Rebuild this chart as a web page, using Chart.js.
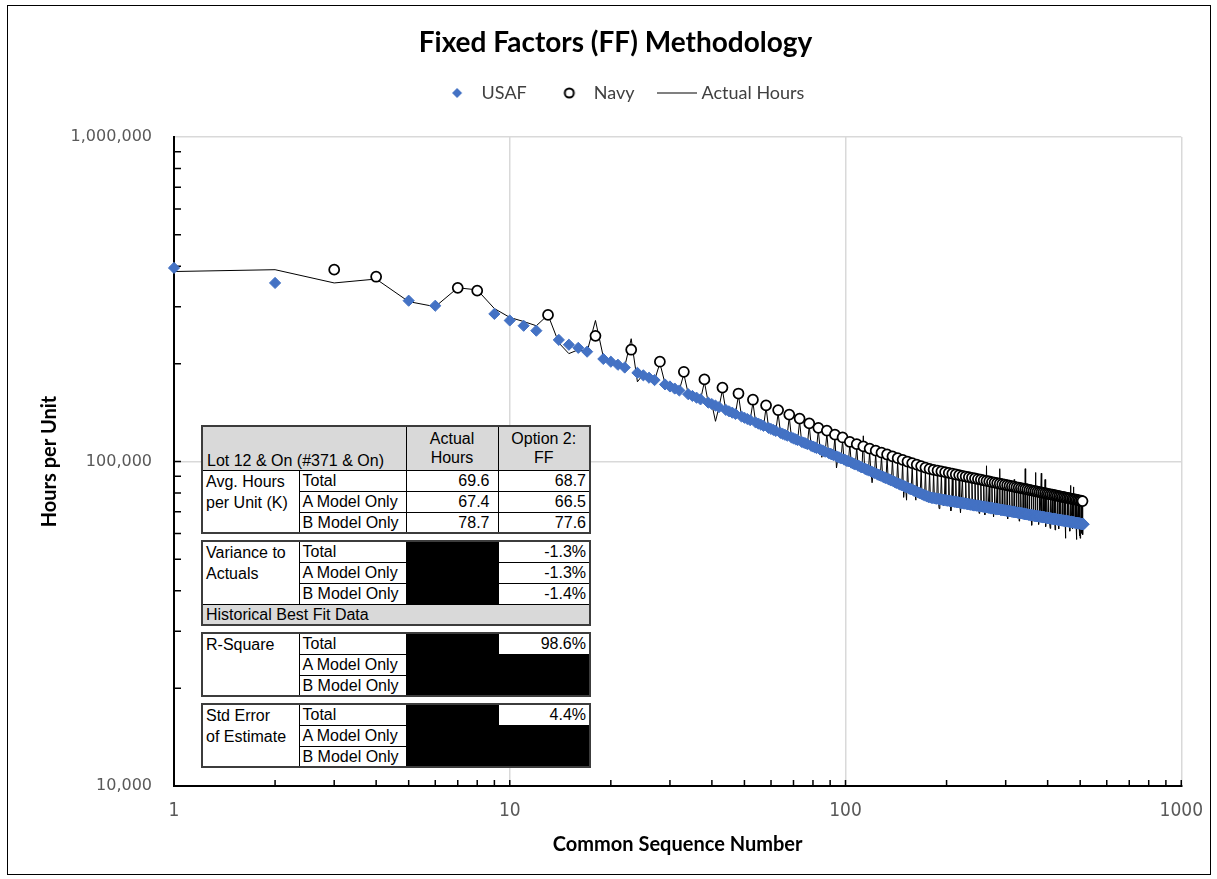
<!DOCTYPE html>
<html>
<head>
<meta charset="utf-8">
<title>Fixed Factors (FF) Methodology</title>
<script src="https://cdn.jsdelivr.net/npm/chart.js@4.4.1/dist/chart.umd.min.js"></script>
<style>
  html, body { margin: 0; padding: 0; background: #fff; }
  #wrap { position: relative; width: 1217px; height: 879px; overflow: hidden; }
  #frame { position: absolute; left: 7px; top: 5px; width: 1204px; height: 870px; border: 1px solid #000; box-sizing: border-box; pointer-events: none; }
  #ffChart { position: absolute; left: 0; top: 0; }
  #stats { position: absolute; left: 201px; top: 425px; width: 388px; background: #fff; font: 16px "Liberation Sans", Arial, sans-serif; color: #000; }
  #stats table { width: 388px; border-collapse: collapse; table-layout: fixed; border: 2px solid #3c3c3c; margin-top: 6px; }
  #stats table:first-child { margin-top: 0; }
  #stats td { border: 1px solid #000; padding: 0 3px; line-height: 19px; white-space: nowrap; overflow: hidden; background: #fff; }
  #stats tr { height: 21px; }
  #stats tr.hd { height: 44px; }
  #stats tr.hd td { background: #d9d9d9; }
  #stats td.bot { vertical-align: bottom; padding-left: 4px; }
  #stats td.ctr { text-align: center; }
  #stats td.top { vertical-align: top; line-height: 21px; }
  #stats td.n3 { text-align: right; padding-right: 8px; }
  #stats td.n4 { text-align: right; padding-right: 3px; }
  #stats td.fill { background: #000; }
  #stats tr.band td { background: #d9d9d9; }
</style>
</head>
<body>
<div id="wrap">
  <canvas id="ffChart" width="1217" height="879"></canvas>
  <div id="frame"></div>
  <div id="stats">
    <table>
      <colgroup><col style="width:97px"><col style="width:107px"><col style="width:92px"><col style="width:92px"></colgroup>
      <tr class="hd"><td colspan="2" class="bot">Lot 12 &amp; On (#371 &amp; On)</td><td class="ctr">Actual<br>Hours</td><td class="ctr">Option 2:<br>FF</td></tr>
      <tr><td rowspan="3" class="top">Avg. Hours<br>per Unit (K)</td><td>Total</td><td class="n3">69.6</td><td class="n4">68.7</td></tr>
      <tr><td>A Model Only</td><td class="n3">67.4</td><td class="n4">66.5</td></tr>
      <tr><td>B Model Only</td><td class="n3">78.7</td><td class="n4">77.6</td></tr>
    </table>
    <table>
      <colgroup><col style="width:97px"><col style="width:107px"><col style="width:92px"><col style="width:92px"></colgroup>
      <tr><td rowspan="3" class="top">Variance to<br>Actuals</td><td>Total</td><td rowspan="3" class="fill"></td><td class="n4">-1.3%</td></tr>
      <tr><td>A Model Only</td><td class="n4">-1.3%</td></tr>
      <tr><td>B Model Only</td><td class="n4">-1.4%</td></tr>
      <tr class="band"><td colspan="4">Historical Best Fit Data</td></tr>
    </table>
    <table>
      <colgroup><col style="width:97px"><col style="width:107px"><col style="width:92px"><col style="width:92px"></colgroup>
      <tr><td rowspan="3" class="top">R-Square</td><td>Total</td><td rowspan="3" class="fill"></td><td class="n4">98.6%</td></tr>
      <tr><td>A Model Only</td><td rowspan="2" class="fill"></td></tr>
      <tr><td>B Model Only</td></tr>
    </table>
    <table>
      <colgroup><col style="width:97px"><col style="width:107px"><col style="width:92px"><col style="width:92px"></colgroup>
      <tr><td rowspan="3" class="top">Std Error<br>of Estimate</td><td>Total</td><td rowspan="3" class="fill"></td><td class="n4">4.4%</td></tr>
      <tr><td>A Model Only</td><td rowspan="2" class="fill"></td></tr>
      <tr><td>B Model Only</td></tr>
    </table>
  </div>
</div>
<script>
// FF model value per common sequence number, thousands of hours (seq 1..512)
const modelK = [
  395, 355, 390, 371, 313, 302, 343, 336, 285, 272,
  262, 253, 283, 237, 229, 224, 218, 244, 207, 203,
  198.7, 194.8, 221, 187.6, 184.3, 181.2, 178.2, 203, 172.8, 170.3,
  167.8, 165.5, 189, 161.2, 159.2, 157.3, 155.4, 179, 151.9, 150.3,
  148.7, 147.1, 169, 144.2, 142.8, 141.4, 140.1, 162, 137.6, 136.4,
  135.2, 134.1, 155, 131.9, 130.9, 129.8, 128.8, 149, 126.9, 126.0,
  125.1, 124.2, 144, 122.5, 121.7, 120.9, 120.1, 139.5, 118.6, 117.8,
  117.1, 116.4, 135.6, 115.0, 114.4, 113.7, 113.1, 131, 111.8, 111.2,
  110.6, 110.0, 127, 108.9, 108.3, 107.8, 107.2, 124.5, 106.2, 105.7,
  105.2, 104.7, 121, 103.7, 103.2, 102.8, 102.3, 118.6, 101.4, 101.0,
  100.5, 100.1, 115, 99.2, 98.8, 98.3, 97.9, 113.1, 97.1, 96.7,
  96.3, 95.9, 111.3, 95.1, 94.7, 94.3, 94.0, 109.6, 93.2, 92.9,
  92.5, 92.2, 108.0, 91.5, 91.1, 90.8, 90.5, 106.5, 89.8, 89.5,
  89.2, 88.9, 105.1, 88.3, 88.0, 87.7, 87.4, 103.7, 86.8, 86.5,
  86.2, 85.9, 102.4, 85.4, 85.1, 84.9, 84.6, 101.2, 84.1, 83.8,
  83.5, 83.3, 100.0, 82.8, 82.5, 82.3, 82.1, 98.9, 81.6, 81.3,
  81.1, 80.9, 97.8, 80.4, 80.2, 80.0, 79.8, 96.8, 79.3, 79.1,
  78.9, 78.7, 95.8, 78.3, 78.1, 77.9, 77.7, 94.9, 77.5, 77.4,
  77.3, 77.2, 94.3, 77.0, 77.0, 76.9, 76.8, 93.8, 76.7, 76.6,
  76.5, 76.4, 93.2, 76.3, 76.2, 76.1, 76.1, 92.7, 76.0, 75.9,
  75.8, 75.7, 92.2, 75.6, 75.5, 75.5, 75.4, 91.7, 75.3, 75.3,
  75.2, 75.1, 91.2, 75.0, 74.9, 74.9, 74.8, 90.8, 74.7, 74.6,
  74.5, 74.5, 90.3, 74.4, 74.3, 74.3, 74.2, 89.9, 74.1, 74.0,
  74.0, 73.9, 89.5, 73.8, 73.7, 73.7, 73.6, 89.1, 73.5, 73.4,
  73.4, 73.3, 88.7, 73.2, 73.2, 73.1, 73.1, 88.3, 73.0, 72.9,
  72.9, 72.8, 87.9, 72.7, 72.7, 72.6, 72.6, 87.5, 72.5, 72.4,
  72.4, 72.3, 87.1, 72.2, 72.2, 72.1, 72.1, 86.8, 72.0, 71.9,
  71.9, 71.8, 86.4, 71.8, 71.7, 71.7, 71.6, 86.1, 71.5, 71.5,
  71.4, 71.4, 85.8, 71.3, 71.3, 71.2, 71.2, 85.4, 71.1, 71.0,
  71.0, 70.9, 85.1, 70.9, 70.8, 70.8, 70.7, 84.8, 70.7, 70.6,
  70.6, 70.5, 84.5, 70.5, 70.4, 70.4, 70.3, 84.2, 70.3, 70.2,
  70.2, 70.1, 83.9, 70.1, 70.0, 70.0, 69.9, 83.6, 69.9, 69.8,
  69.8, 69.7, 83.3, 69.7, 69.6, 69.6, 69.5, 83.1, 69.5, 69.4,
  69.4, 69.3, 82.8, 69.3, 69.2, 69.2, 69.1, 82.5, 69.1, 69.0,
  69.0, 68.9, 82.3, 68.9, 68.8, 68.8, 68.7, 82.0, 68.7, 68.6,
  68.6, 68.6, 81.7, 68.5, 68.5, 68.4, 68.4, 81.5, 68.3, 68.3,
  68.2, 68.2, 81.2, 68.1, 68.1, 68.0, 68.0, 81.0, 67.9, 67.9,
  67.9, 67.9, 80.8, 67.8, 67.8, 67.8, 67.7, 80.5, 67.7, 67.7,
  67.6, 67.6, 80.3, 67.5, 67.5, 67.5, 67.4, 80.1, 67.4, 67.3,
  67.3, 67.3, 79.9, 67.2, 67.2, 67.1, 67.1, 79.6, 67.1, 67.0,
  67.0, 67.0, 79.4, 66.9, 66.9, 66.9, 66.8, 79.2, 66.8, 66.7,
  66.7, 66.7, 79.0, 66.6, 66.6, 66.6, 66.5, 78.8, 66.5, 66.4,
  66.4, 66.4, 78.6, 66.3, 66.3, 66.3, 66.2, 78.4, 66.2, 66.2,
  66.1, 66.1, 78.2, 66.0, 66.0, 66.0, 66.0, 78.0, 65.9, 65.9,
  65.9, 65.8, 77.8, 65.8, 65.8, 65.7, 65.7, 77.6, 65.7, 65.6,
  65.6, 65.6, 77.4, 65.5, 65.5, 65.5, 65.5, 77.2, 65.4, 65.4,
  65.4, 65.3, 77.1, 65.3, 65.3, 65.2, 65.2, 76.9, 65.2, 65.1,
  65.1, 65.1, 76.7, 65.0, 65.0, 65.0, 65.0, 76.5, 64.9, 64.9,
  64.9, 64.8, 76.4, 64.8, 64.8, 64.7, 64.7, 76.2, 64.7, 64.6,
  64.6, 64.6, 76.0, 64.5, 64.5, 64.5, 64.5, 75.8, 64.4, 64.4,
  64.4, 64.3, 75.7, 64.3, 64.3, 64.2, 64.2, 75.5, 64.2, 64.1,
  64.1, 64.1
];

// actual hours per unit, thousands (seq 1..512)
const actualK = [
  385, 390, 355, 365, 311, 300, 343, 338, 296, 278,
  270, 262, 283, 232, 215, 221, 218, 272, 210, 204,
  200, 196, 239, 176, 186, 182, 178, 201, 174, 171,
  168, 166, 186, 162, 160, 157, 155, 176, 152, 150,
  133, 147, 166, 144, 143, 141, 140, 160, 138, 136,
  135, 134, 152, 132, 131, 130, 128, 147, 127, 126,
  125, 124, 141, 123, 122, 121, 120, 137, 119, 118,
  117, 116, 133, 115, 114, 114, 113, 129, 112, 111,
  110.5, 110, 125, 109, 103, 108, 107, 122, 106, 105.7,
  105, 104.5, 119, 95.5, 103, 102.5, 102, 116, 101, 100.5,
  100, 99.6, 113, 99, 98.5, 98, 97.6, 111, 97, 96.5,
  96, 95.6, 120, 95, 94.5, 94, 93.8, 107, 93, 86,
  92.3, 92, 105.5, 91.3, 91, 90.6, 90.3, 104, 89.6, 89.3,
  89, 88.7, 103, 88.1, 87.8, 87.5, 87.2, 101.5, 86.6, 86.3,
  86, 85.7, 100, 85.2, 85, 84.7, 84.4, 99, 77.5, 83.6,
  83.3, 76, 98, 82.6, 82.3, 82.1, 81.9, 97, 81.4, 81.1,
  80.9, 76, 96, 80.2, 80, 79.8, 79.6, 95, 79.1, 78.9,
  78.7, 78.5, 94, 78.1, 77.9, 77.7, 77.5, 93, 77.3, 77.2,
  77.1, 77, 92.5, 76.8, 76.8, 76.7, 76.6, 97, 76.5, 71.6,
  76.3, 76.2, 91.5, 76.1, 76, 73, 75.9, 91, 75.8, 75.7,
  75.6, 75.5, 90.5, 75.4, 75.3, 70.5, 75.2, 90, 75.1, 75.1,
  75, 74.9, 89.5, 74.8, 74.7, 74.7, 74.6, 89, 74.5, 69.5,
  74.3, 74.3, 88.6, 74.2, 74.1, 74.1, 74, 88.2, 73.9, 73.8,
  73.8, 73.7, 87.8, 73.6, 73.5, 73.5, 73.4, 87.5, 73.3, 73.2,
  73.2, 73.1, 92, 73, 73, 72.9, 72.9, 86.6, 72.8, 69.2,
  72.7, 72.6, 86.2, 72.5, 72.5, 72.4, 72.4, 85.8, 72.3, 68.5,
  72.2, 72.1, 97, 72, 72, 71.9, 71.9, 85, 71.8, 71.7,
  71.7, 71.6, 84.8, 71.6, 71.5, 67.5, 71.4, 84.5, 71.3, 71.3,
  71.2, 71.2, 84.2, 71.1, 71.1, 71, 71, 95, 70.9, 70.8,
  70.8, 70.7, 83.5, 70.7, 70.6, 70.6, 70.5, 83.2, 70.5, 70.4,
  70.4, 70.3, 83, 66.5, 70.2, 70.2, 70.1, 82.7, 70.1, 70,
  70, 69.9, 82.4, 69.9, 69.8, 69.8, 69.7, 88, 69.7, 69.6,
  69.6, 69.5, 81.8, 69.5, 69.4, 69.4, 69.3, 81.6, 65.5, 69.2,
  69.2, 69.1, 81.3, 69.1, 69, 69, 68.9, 81, 68.9, 68.8,
  68.8, 68.7, 95, 68.7, 68.6, 68.6, 68.5, 80.5, 68.5, 68.4,
  68.4, 68.4, 80.2, 68.3, 68.3, 68.2, 68.2, 80, 63.6, 68.1,
  68, 68, 79.8, 67.9, 67.9, 67.8, 67.8, 92.5, 67.7, 67.7,
  67.7, 67.6, 79.3, 67.6, 67.5, 64, 67.5, 79, 67.5, 67.4,
  67.4, 67.4, 92, 67.3, 67.3, 67.3, 67.2, 78.6, 67.2, 67.1,
  67.1, 67.1, 88, 67, 63, 66.9, 66.9, 78.2, 66.9, 66.8,
  66.8, 66.8, 78, 66.7, 66.7, 66.7, 62.2, 77.8, 66.6, 66.5,
  66.5, 66.5, 77.6, 66.4, 66.4, 66.4, 66.3, 77.4, 66.3, 66.2,
  61.5, 66.2, 77.2, 66.1, 66.1, 66.1, 66, 77, 66, 66,
  65.9, 62, 76.8, 65.8, 65.8, 65.8, 65.8, 76.6, 65.7, 65.7,
  65.7, 65.6, 76.4, 65.6, 65.6, 65.5, 65.5, 76.2, 65.5, 65.4,
  65.4, 58, 76, 65.3, 65.3, 65.3, 65.3, 75.8, 65.2, 65.2,
  65.2, 65.1, 75.7, 65.1, 65.1, 61, 65, 84.4, 65, 64.9,
  64.9, 64.9, 75.3, 62, 64.8, 64.8, 64.8, 83.5, 64.7, 64.7,
  64.7, 64.6, 75, 64.6, 64.6, 64.5, 57.5, 74.8, 64.5, 64.4,
  64.4, 64.4, 74.6, 64.3, 64.3, 64.3, 59, 74.4, 64.2, 58,
  64.2, 64.1, 74.3, 64.1, 60, 64, 64, 74.1, 59.5, 63.9,
  63.9, 63.9
];

// sequence numbers built by the Navy (the rest are USAF)
const navySeq = [
  3, 4, 7, 8, 13, 18, 23, 28, 33, 38, 43, 48, 53, 58, 63, 68, 73, 78, 83, 88,
  93, 98, 103, 108, 113, 118, 123, 128, 133, 138, 143, 148, 153, 158, 163, 168,
  173, 178, 183, 188, 193, 198, 203, 208, 213, 218, 223, 228, 233, 238, 243, 248,
  253, 258, 263, 268, 273, 278, 283, 288, 293, 298, 303, 308, 313, 318, 323, 328,
  333, 338, 343, 348, 353, 358, 363, 368, 373, 378, 383, 388, 393, 398, 403, 408,
  413, 418, 423, 428, 433, 438, 443, 448, 453, 458, 463, 468, 473, 478, 483, 488,
  493, 498, 503, 508
];

const xTickVals = [1, 10, 100, 1000];
const yTickVals = [10000, 100000, 1000000];
const xMarks = [2, 3, 4, 5, 6, 7, 8, 9, 10, 20, 30, 40, 50, 60, 70, 80, 90, 100, 200, 300, 400, 500, 600, 700, 800, 900, 1000];
const yMarks = [20000, 30000, 40000, 50000, 60000, 70000, 80000, 90000, 100000,
  200000, 300000, 400000, 500000, 600000, 700000, 800000, 900000];

const usafPts = [];
const navyPts = [];
const actualPts = [];
modelK.forEach((v, i) => {
  const seq = i + 1;
  const pt = { x: seq, y: v * 1000 };
  if (navySeq.includes(seq)) navyPts.push(pt);
  else usafPts.push(pt);
  actualPts.push({ x: seq, y: actualK[i] * 1000 });
});

// legend icons
function icon(w, h, draw) {
  const c = document.createElement('canvas');
  c.width = w; c.height = h;
  draw(c.getContext('2d'));
  return c;
}
const legendIcons = [
  icon(12, 12, (g) => {
    g.fillStyle = '#4472C4';
    g.beginPath(); g.moveTo(6, 1); g.lineTo(11, 6); g.lineTo(6, 11); g.lineTo(1, 6); g.closePath(); g.fill();
  }),
  icon(14, 14, (g) => {
    g.fillStyle = '#fff'; g.strokeStyle = '#000'; g.lineWidth = 2;
    g.beginPath(); g.arc(7, 7, 4.5, 0, Math.PI * 2); g.fill(); g.stroke();
  }),
  icon(40, 3, (g) => {
    g.strokeStyle = '#000'; g.lineWidth = 1;
    g.beginPath(); g.moveTo(0, 1.5); g.lineTo(40, 1.5); g.stroke();
  })
];

const chartTweaks = {
  id: 'chartTweaks',
  beforeInit(chart) {
    const fit = chart.legend.fit;
    chart.legend.fit = function () {
      fit.call(this);
      this.height += 25;
    };
  },
  afterLayout(chart) {
    chart.legend.left += 55;
    chart.titleBlock.left += 40;
  },
  beforeDatasetsDraw(chart) {
    const { ctx, scales: { x, y } } = chart;
    ctx.save();
    ctx.strokeStyle = '#000';
    ctx.lineWidth = 1.5;
    ctx.beginPath();
    xMarks.forEach((v) => {
      const px = x.getPixelForValue(v);
      ctx.moveTo(px, y.bottom);
      ctx.lineTo(px, y.bottom - 6);
    });
    yMarks.forEach((v) => {
      const py = y.getPixelForValue(v);
      ctx.moveTo(x.left, py);
      ctx.lineTo(x.left + 7, py);
    });
    ctx.stroke();
    ctx.restore();
  }
};

Chart.defaults.font.family = 'Lato, sans-serif';

new Chart(document.getElementById('ffChart'), {
  type: 'scatter',
  data: {
    datasets: [
      { label: 'USAF', data: usafPts, pointStyle: 'rectRot', pointRadius: 5.6, pointBackgroundColor: '#4472C4', pointBorderColor: '#4472C4', pointBorderWidth: 1, clip: false },
      { label: 'Navy', data: navyPts, pointStyle: 'circle', pointRadius: 5, pointBackgroundColor: '#fff', pointBorderColor: '#000', pointBorderWidth: 1.75, clip: false },
      { label: 'Actual Hours', data: actualPts, showLine: true, pointRadius: 0, borderColor: '#000', borderWidth: 1, clip: false }
    ]
  },
  options: {
    responsive: false,
    animation: false,
    events: [],
    layout: { padding: { left: 8, right: 34, top: 6, bottom: 4 } },
    plugins: {
      tooltip: { enabled: false },
      title: {
        display: true,
        text: 'Fixed Factors (FF) Methodology',
        color: '#000',
        font: { family: 'Lato, sans-serif', size: 28, weight: 'bold', lineHeight: 1 },
        padding: { top: 23, bottom: 0 }
      },
      legend: {
        position: 'top',
        labels: {
          usePointStyle: true,
          pointStyleWidth: 31,
          padding: 27,
          color: '#404040',
          font: { family: 'Lato, sans-serif', size: 18 },
          generateLabels: (chart) => chart.data.datasets.map((ds, i) => ({
            text: ds.label,
            pointStyle: legendIcons[i],
            fontColor: '#404040',
            fillStyle: 'transparent',
            strokeStyle: 'transparent',
            lineWidth: 0,
            hidden: false,
            datasetIndex: i
          }))
        }
      }
    },
    scales: {
      x: {
        type: 'logarithmic',
        min: 1,
        max: 1000,
        afterBuildTicks: (axis) => { axis.ticks = xTickVals.map((v) => ({ value: v })); },
        afterFit: (axis) => { axis.height = 89; },
        grid: { color: '#d9d9d9', lineWidth: 1.5, drawTicks: false },
        border: { color: '#000', width: 2 },
        ticks: {
          autoSkip: false,
          maxRotation: 0,
          padding: 14,
          color: '#595959',
          font: { family: '"Liberation Sans Narrow", "DejaVu Sans Condensed", sans-serif', size: 19 },
          callback: (v) => String(v)
        },
        title: {
          display: true,
          text: 'Common Sequence Number',
          color: '#000',
          font: { family: 'Lato, sans-serif', size: 20, weight: 'bold' },
          padding: { top: 0, bottom: 18 }
        }
      },
      y: {
        type: 'logarithmic',
        min: 10000,
        max: 1000000,
        afterBuildTicks: (axis) => { axis.ticks = yTickVals.map((v) => ({ value: v })); },
        afterFit: (axis) => { axis.width = 166; },
        grid: { color: '#d9d9d9', lineWidth: 1.5, drawTicks: false },
        border: { color: '#000', width: 2 },
        ticks: {
          padding: 22,
          color: '#595959',
          font: { family: '"DejaVu Sans", sans-serif', size: 16 },
          callback: (v) => Number(v).toLocaleString('en-US')
        },
        title: {
          display: true,
          text: 'Hours per Unit',
          color: '#000',
          font: { family: 'Lato, sans-serif', size: 20, weight: 'bold' },
          padding: { top: 30, bottom: 0 }
        }
      }
    }
  },
  plugins: [chartTweaks]
});
</script>
</body>
</html>
